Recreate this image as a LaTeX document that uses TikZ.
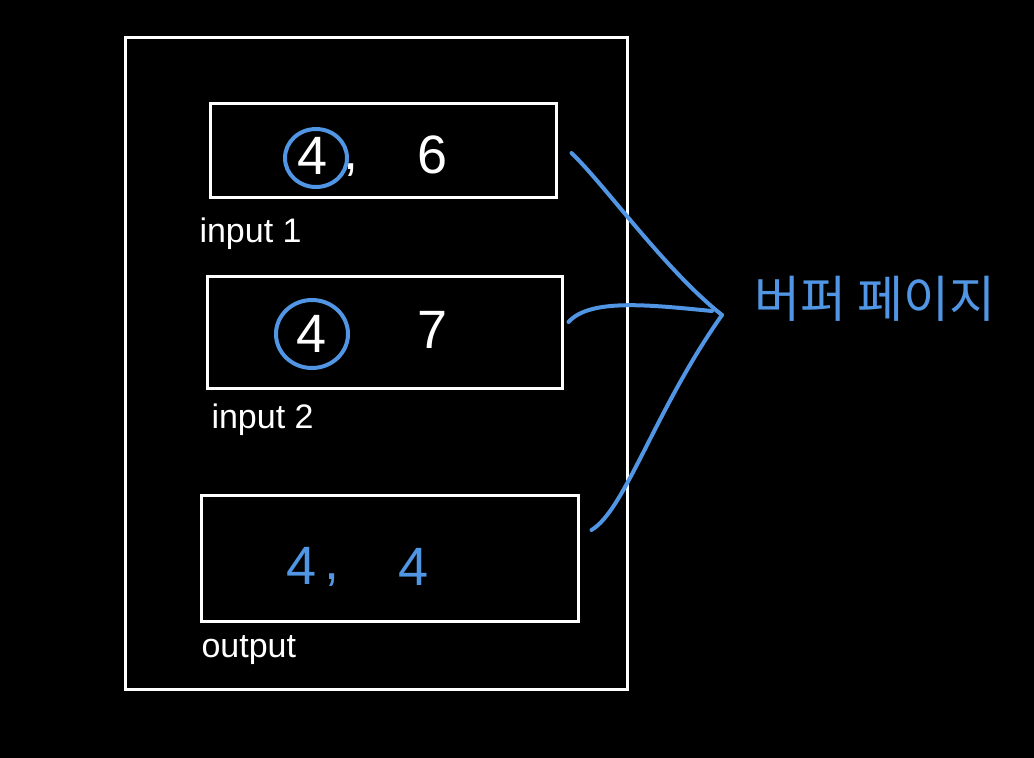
\documentclass[tikz,border=0pt]{standalone}
\usepackage{fontspec}
\setmainfont{Liberation Sans}
\newfontfamily\kor{Noto Sans CJK KR}
\definecolor{pen}{RGB}{80,150,228}

\begin{document}
\begin{tikzpicture}
  [x=1pt,y=-1pt,line width=3pt,
   every node/.style={text=white,inner sep=0pt},
   page/.style={draw=white,rectangle},
   digit/.style={font=\fontsize{54}{54}\selectfont},
   tag/.style={font=\fontsize{34}{34}\selectfont,anchor=west},
   link/.style={draw=pen,line width=4pt,line cap=round}]
  \fill[black] (0,0) rectangle (1034,758);
  \node[page,minimum width=502pt,minimum height=652pt] (frame) at (376,363) {};
  \node[page,minimum width=346pt,minimum height=94pt]  (1) at (383,150) {};
  \node[page,minimum width=355pt,minimum height=112pt] (2) at (384.5,332) {};
  \node[page,minimum width=377pt,minimum height=126pt] (3) at (389.5,558) {};

  % values
  \node[digit] (1a) at (313,156) {4};
  \node[digit] at (351,170) {,};
  \node[digit] (1b) at (433,155) {6};
  \node[digit] (2a) at (312,334) {4};
  \node[digit] (2b) at (433,330) {7};
  \node[digit,text=pen] (3a) at (302,566) {4};
  \node[digit,text=pen] at (332,580) {,};
  \node[digit,text=pen] (3b) at (414,567) {4};
  \draw[link] ([xshift=3pt,yshift=-2pt]1a) ellipse (31 and 29);
  \draw[link] (2a) ellipse (36 and 34);

  % labels
  \node[tag] (l1) at (198,234) {input 1};
  \node[tag] (l2) at (210,420) {input 2};
  \node[tag] (l3) at (200,650) {output};

  \node[text=pen,font=\kor\fontsize{50}{50}\selectfont] (buf) at (875,299) {버퍼 페이지};
  \coordinate (tip) at (722,315);

  \draw[link] ([xshift=14pt,yshift=-3pt]1.east) .. controls (605,185) and (665,270) .. (tip);
  \draw[link] ([xshift=5pt,yshift=10pt]2.east) .. controls (590,298) and (650,305) .. ([xshift=-10pt,yshift=4pt]tip);
  \draw[link] ([xshift=12pt,yshift=28pt]3.east) .. controls (625,510) and (655,410) .. (tip);
\end{tikzpicture}
\end{document}
